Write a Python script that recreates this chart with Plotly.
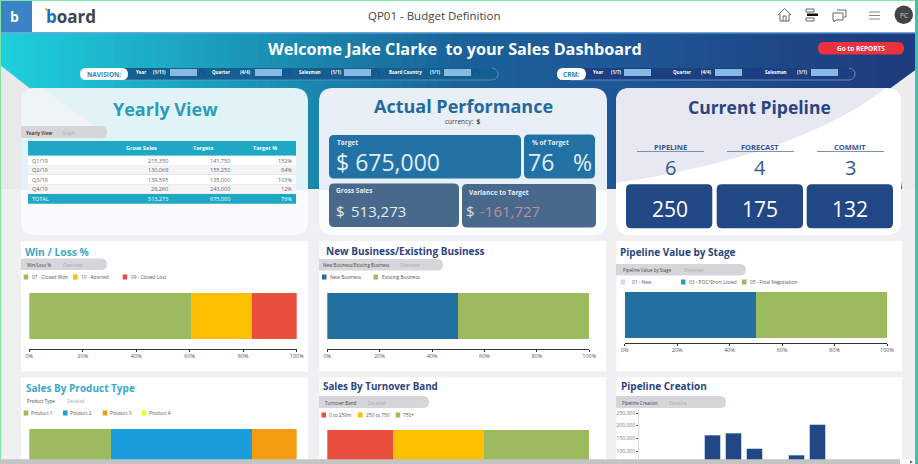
import plotly.graph_objects as go

W, H = 918, 464

# table
table_columns = ["Gross Sales", "Targets", "Target %"]
quarters = ["Q1/19", "Q2/19", "Q3/19", "Q4/19", "TOTAL"]
gross_sales = ["215,350", "130,068", "139,595", "28,260", "513,273"]
targets = ["141,750", "155,250", "135,000", "243,000", "675,000"]
target_pct = ["152%", "84%", "103%", "12%", "76%"]

# stacked bars, percent of total
pct_ticks = [0, 20, 40, 60, 80, 100]
pct_tick_labels = ["0%", "20%", "40%", "60%", "80%", "100%"]
win_labels = ["07 - Closed Won", "10 - Aborted", "09 - Closed Lost"]
win_values = [60.5, 22.7, 16.8]
business_labels = ["New Business", "Existing Business"]
business_values = [49.9, 50.1]
stage_labels = ["01 - New", "03 - POC/Short Listed", "05 - Final Negotiation"]
stage_values = [0, 50.1, 49.9]
product_labels = ["Product 1", "Product 2", "Product 3", "Product 4"]
product_values = [30.4, 52.8, 16.8, 0]
band_labels = ["0 to 250m", "250 to 750", "750+"]
band_values = [24.9, 34.9, 40.2]

# pipeline creation, by month
months = ["Jan", "Feb", "Mar", "Apr", "May", "Jun", "Jul", "Aug", "Sep", "Oct", "Nov", "Dec"]
pipeline_created = [None, None, None, 162000, 170000, 109500, None, 83500, 204000, None, None, None]
pipeline_ticks = [100000, 150000, 200000, 250000]

GREEN = "#9cba5e"
BLUE = "#22709f"
NAVY = "#2c4480"
TEAL = "#3aa9c9"
WHITE_TXT = "#e3edf5"
FONT = "Open Sans"

shapes = []
notes = []


def box(x0, y0, x1, y1, color, r=0, layer="below", round_left=True):
    rl = r if round_left else 0
    path = (
        f"M{x0 + rl},{y0} L{x1 - r},{y0} Q{x1},{y0} {x1},{y0 + r} L{x1},{y1 - r} Q{x1},{y1} {x1 - r},{y1} "
        f"L{x0 + rl},{y1} Q{x0},{y1} {x0},{y1 - rl} L{x0},{y0 + rl} Q{x0},{y0} {x0 + rl},{y0} Z"
    )
    shapes.append(dict(type="path", path=path, fillcolor=color, line_width=0, layer=layer, xref="x", yref="y"))


def poly(path, color, layer="below"):
    shapes.append(dict(type="path", path=path, fillcolor=color, line_width=0, layer=layer, xref="x", yref="y"))


def stroke(path, color="#666666", width=1):
    shapes.append(dict(type="path", path=path, line=dict(color=color, width=width), layer="below", xref="x", yref="y"))


def txt(x, y, s, size, color="#444444", anchor="left", bold=False):
    notes.append(dict(
        x=x, y=y, xref="x", yref="y", text=f"<b>{s}</b>" if bold else s, showarrow=False,
        xanchor=anchor, yanchor="middle", borderpad=0, font=dict(size=size, color=color, family=FONT),
    ))


def mix(c1, c2, t):
    a = [int(c1[i:i + 2], 16) for i in (1, 3, 5)]
    b = [int(c2[i:i + 2], 16) for i in (1, 3, 5)]
    return "#%02x%02x%02x" % tuple(round(p + (q - p) * t) for p, q in zip(a, b))


# banner gradient
stops = [(0, "#1ecfdc"), (310, "#1a86ad"), (460, "#1a6199"), (615, "#1e5796"), (918, "#1e3a7c")]
for x in range(0, W, 6):
    for (s0, c0), (s1, c1) in zip(stops, stops[1:]):
        if s0 <= x < s1:
            box(x, 33, x + 7, 189, mix(c0, c1, (x - s0) / (s1 - s0)))
            break

# page edges under the banner
box(0, 189, W, H, "#f0f0f3")
poly("M0,65 L32,90 L21,189 L0,189 Z", "#e9e9ec")
poly("M918,68 L888,90 L902,189 L918,189 Z", "#ececef")

# header
box(0, 0, W, 32, "#ffffff")
box(0, 0, 32, 32, "#3b82c6")
box(0, 32, W, 33.5, "#6da7dc")
txt(14, 16, "b", 14, "#ffffff", "center", True)
txt(44.5, 16.5, "<span style='color:#1f6fb5'>b</span>oard", 17, "#3c4450", bold=True)
box(45.5, 8, 47, 11, "#f0a030")
txt(434, 15, "QP01 - Budget Definition", 11.5, "#444444", "center")
stroke("M778,15 L784.5,8.5 L791,15 M780,14 L780,21 L789,21 L789,14 M783,21 L783,16 L786,16 L786,21")
stroke("M806,9 L814,9 L814,12 L806,12 Z M806,18 L814,18 L814,21 L806,21 Z")
box(807, 13.5, 818, 16, "#111111")
stroke("M837,10 L846,10 L846,17 L844,17 M833,13 L843,13 L843,20 L836,20 L834,22 L834,20 L833,20 Z")
stroke("M869,12 L880,12 M869,15.5 L880,15.5 M869,19 L880,19", "#888888")
shapes.append(dict(type="circle", x0=894.5, x1=913, y0=5.5, y1=24, fillcolor="#444444", line_width=0, layer="below", xref="x", yref="y"))
txt(903.7, 15, "PC", 6.5, "#cccccc", "center")

# banner texts
txt(455, 49, "Welcome Jake Clarke  to your Sales Dashboard", 16.2, "#ffffff", "center", True)
box(818, 42, 904, 54.5, "#e8333f", 6)
txt(861, 48.5, "Go to REPORTS", 6.5, "#ffffff", "center", True)

# selector bars
box(110, 68, 498, 80, "#155f90", 6)
box(570, 68, 855, 80, "#1b3f80", 6)
stroke("M110,80 L492,80 Q498,79 498,74 Q498,69 492,68", "#6aa0c8", 0.7)
stroke("M570,80 L849,80 Q855,79 855,74 Q855,69 849,68", "#8aa4d0", 0.7)
box(80, 68, 128, 80, "#ffffff", 6)
box(557, 68, 586, 80, "#ffffff", 6)
txt(104, 74.5, "NAVISION:", 6.5, "#2a86b5", "center", True)
txt(571.5, 74.5, "CRM:", 6.5, "#2a86b5", "center", True)
for name, cnt, xn, xc, xb in [
    ("Year", "(1/11)", 141, 159, 170), ("Quarter", "(4/4)", 221, 245, 255),
    ("Salesman", "(1/1)", 310, 336, 344), ("Board Country", "(1/1)", 405, 435, 444),
    ("Year", "(1/7)", 598, 616, 624), ("Quarter", "(4/4)", 682, 706, 715), ("Salesman", "(1/1)", 776, 802, 811),
]:
    txt(xn, 72, name, 4.5, "#ffffff", "center", True)
    txt(xc, 72, cnt, 4.5, "#ffffff", "center", True)
    box(xb, 69, xb + 27, 76, "#86b9e4")
    stroke(f"M{xb + 29},75 Q{xb + 29},70 {xb + 32},70 Q{xb + 35},70 {xb + 35},75", "#0f4a78", 0.8)

# top cards
box(21, 88, 308, 235, "#e2f3f8", 14)
poly("M21,190 L308,190 L308,221 Q308,235 294,235 L35,235 Q21,235 21,221 Z", "#fbfbfd")
poly("M21,102 Q21,88 35,88 L42,88 L100,130 L21,128 Z", "#eff4f6")
box(319, 88, 607, 235, "#e8eff7", 14)
poly("M319,190 L607,190 L607,221 Q607,235 593,235 L333,235 Q319,235 319,221 Z", "#fbfcfd")
box(616, 88, 901, 235, "#ffffff", 14)
poly("M616,102 Q616,88 630,88 L886,88 Q800,155 616,183 Z", "#e6e9f2")

txt(165, 109, "Yearly View", 18, "#2a9dbb", "center", True)
txt(463, 105.5, "Actual Performance", 18, "#24689e", "center", True)
txt(463, 121.5, "currency:  <b>$</b>", 6.5, "#444444", "center")
txt(759, 107, "Current Pipeline", 17.5, NAVY, "center", True)

box(21, 126, 107, 138, "#d6d6da", 6, round_left=False)
txt(25, 132.5, "Yearly View", 4.5, "#444444", bold=True)
txt(61, 132.5, "Graph", 4.5, "#aaaaaa")

# yearly view table
col_left = [28, 110, 172, 234]
col_right = [110, 172, 234, 296]
box(28, 141, 296, 155.7, "#1fa7c6")
for j, head in enumerate(table_columns):
    txt((col_left[j + 1] + col_right[j + 1]) / 2, 148.3, head, 5.5, "#ffffff", "center", True)
row_h = 9.6
for i, label in enumerate(quarters):
    top = 155.7 + i * row_h
    is_total = i == len(quarters) - 1
    fill = "#1fa7c6" if is_total else ("#ffffff" if i % 2 == 0 else "#f4f4f6")
    color = "#ffffff" if is_total else "#666666"
    box(28, top, 296, top + row_h, fill)
    if not is_total:
        box(28, top + row_h - 0.3, 296, top + row_h + 0.3, "#d8d8d8")
    txt(31, top + row_h / 2, label, 5.5, color)
    for j, col in enumerate([gross_sales, targets, target_pct]):
        txt(col_right[j + 1] - 3, top + row_h / 2, col[i], 5.5, color, "right")

# actual performance tiles
box(329, 135, 521, 178.5, "#2272a6", 5)
box(524, 134.5, 595, 178.5, "#2272a6", 5)
box(329, 183.5, 459, 227, "#49698c", 5)
box(462, 184, 596, 227.5, "#49698c", 5)
txt(336, 142.5, "Target", 6.5, WHITE_TXT, bold=True)
txt(335, 162, "$ 675,000", 23, WHITE_TXT)
txt(531, 142, "% of Target", 6.5, WHITE_TXT, bold=True)
txt(527, 162, "76", 23, WHITE_TXT)
txt(572, 162, "%", 23, WHITE_TXT)
txt(335, 190.5, "Gross Sales", 6.5, WHITE_TXT, bold=True)
txt(335, 211, "$", 15, WHITE_TXT)
txt(350, 211, "513,273", 15, WHITE_TXT)
txt(468, 192, "Variance to Target", 6.5, WHITE_TXT, bold=True)
txt(465, 211, "$", 15, "#d5dde6")
txt(479, 211, "-161,727", 15, "#c48a95")

# current pipeline tiles
for name, cnt, amount, cx, x0, x1 in [
    ("PIPELINE", "6", "250", 670, 626, 712.3),
    ("FORECAST", "4", "175", 760, 716.7, 803),
    ("COMMIT", "3", "132", 850, 806.7, 893),
]:
    txt(cx, 146.5, name, 7.5, "#3a5590", "center", True)
    stroke(f"M{cx - 33},151.5 L{cx + 34},151.5", "#8090ad", 1)
    txt(cx, 167, cnt, 20, "#3a5590", "center")
    box(x0, 184.3, x1, 228.3, "#214785", 5)
    txt(cx, 209, amount, 21, "#ffffff", "center")

# lower panels
for x0, x1 in [(21, 308), (319.5, 606), (616.5, 902)]:
    box(x0, 241, x1, 371.5, "#ffffff")
    box(x0, 377.3, x1, H, "#ffffff")

# window edges and scrollbar
box(0, 0, W, 1, "#7fe3a8", layer="above")
box(0, 0, 1, H, "#7fe3a8", layer="above")
box(915, 0, W, H, "#3ec4ac", layer="above")
box(900, 459.3, 915, H, "#ffffff", layer="above")
box(0, 459.3, 900, H, "#c4c4c4", layer="above")
poly("M910,460.5 L913,462 L910,463.5 Z", "#555555", layer="above")


def panel_head(title, color, tx, ty, size, pill, name, view, legend, leg_y):
    txt(tx, ty, title, size, color, bold=True)
    if pill:
        box(pill[0], pill[1], pill[2], pill[3], "#d6d6da", 6, round_left=False)
    yy = (pill[1] + pill[3]) / 2 + 0.5 if pill else ty + 13.5
    txt(name[1], yy, name[0], 4.5, "#444444")
    txt(view[1], yy, view[0], 4.5, "#aaaaaa")
    for label, swatch_x, text_x, c in legend:
        box(swatch_x, leg_y - 2.5, swatch_x + 4.5, leg_y + 2.5, c)
        txt(text_x, leg_y, label, 4.8, "#555555")


panel_head("Win / Loss %", TEAL, 24, 251.5, 10.3, (21, 258.5, 107, 270), ("Win/Loss %", 26), ("Overview", 62),
           [(win_labels[0], 23.7, 31, GREEN), (win_labels[1], 73, 80, "#ffc000"), (win_labels[2], 122.7, 130, "#e94f3d")], 277)
panel_head("New Business/Existing Business", NAVY, 325, 251, 10, (319, 259, 443, 270.5), ("New Business/Existing Business", 322), ("Overview", 399),
           [(business_labels[0], 322, 329, BLUE), (business_labels[1], 373.5, 381, GREEN)], 277)
panel_head("Pipeline Value by Stage", NAVY, 619, 252, 10, (616, 264, 746, 275.5), ("Pipeline Value by Stage", 622), ("Overview", 683),
           [(stage_labels[0], 620.7, 631, "#c5e4e0"), (stage_labels[1], 681, 688, "#1fa0b8"), (stage_labels[2], 742, 749, GREEN)], 282)
panel_head("Sales By Product Type", TEAL, 25, 387.5, 10, None, ("Product Type", 26), ("Detailed", 66),
           [(product_labels[0], 23.7, 30, GREEN), (product_labels[1], 63, 69, "#1a9ddd"), (product_labels[2], 102.7, 109, "#f39c12"), (product_labels[3], 141.7, 148, "#f5f520")], 413)
panel_head("Sales By Turnover Band", NAVY, 322, 386.5, 9.8, (319, 396, 429, 408), ("Turnover Band", 324), ("Detailed", 367),
           [(band_labels[0], 321.5, 328, "#e94f3d"), (band_labels[1], 358, 365, "#ffc000"), (band_labels[2], 395.7, 402, GREEN)], 415)
panel_head("Pipeline Creation", NAVY, 620, 385.5, 10, (616, 396, 726, 408), ("Pipeline Creation", 621), ("Timeline", 668), [], 0)


def dom_x(x0, x1):
    return [x0 / W, x1 / W]


def dom_y(top, bottom):
    return [1 - bottom / H, 1 - top / H]


fig = go.Figure()
# pixel axes that carry the page furniture
fig.add_trace(go.Scatter(x=[], y=[], xaxis="x", yaxis="y", showlegend=False))
layout_axes = dict(
    xaxis=dict(domain=[0, 1], range=[0, W], visible=False, fixedrange=True),
    yaxis=dict(domain=[0, 1], range=[H, 0], visible=False, fixedrange=True),
)
n_axes = 1


def stacked(labels, values, colors, x0, x1, bar_top, bar_bottom, plot_top, axis_y, show_axis=True):
    global n_axes
    n_axes += 1
    xa, ya = f"x{n_axes}", f"y{n_axes}"
    for label, value, color in zip(labels, values, colors):
        fig.add_trace(go.Bar(
            x=[value], y=[0], name=label, orientation="h", width=1, xaxis=xa, yaxis=ya,
            marker=dict(color=color, line=dict(color=color, width=0)), showlegend=False,
        ))
    px = bar_bottom - bar_top
    layout_axes[f"xaxis{n_axes}"] = dict(
        domain=dom_x(x0, x1), range=[0, 100], anchor=ya, tickvals=pct_ticks, ticktext=pct_tick_labels,
        showgrid=False, zeroline=False, showline=show_axis, linecolor="#333333", linewidth=1, ticks="outside" if show_axis else "",
        ticklen=2, tickcolor="#333333", showticklabels=show_axis, tickfont=dict(size=5.5, color="#555555", family=FONT),
    )
    layout_axes[f"yaxis{n_axes}"] = dict(
        domain=dom_y(plot_top, axis_y), range=[-0.5 - (axis_y - bar_bottom) / px, 0.5 + (bar_top - plot_top) / px],
        anchor=xa, visible=False,
    )


stacked(win_labels, win_values, [GREEN, "#ffc000", "#e94f3d"], 29.3, 296.7, 292.7, 338.7, 288, 348.7)
stacked(business_labels, business_values, [BLUE, GREEN], 327.3, 589.3, 292.7, 338.7, 288, 348.7)
stacked(stage_labels, stage_values, ["#c5e4e0", BLUE, GREEN], 624.7, 887, 292, 338, 288, 342.7)
stacked(product_labels, product_values, [GREEN, "#1a9ddd", "#f39c12", "#f5f520"], 29.3, 296.7, 429, 475, 425, 464, False)
stacked(band_labels, band_values, ["#e94f3d", "#ffc000", GREEN], 327.3, 589.3, 430, 476, 426, 464, False)

n_axes += 1
fig.add_trace(go.Bar(
    x=months, y=pipeline_created, xaxis=f"x{n_axes}", yaxis=f"y{n_axes}", showlegend=False,
    marker=dict(color="#214785", line=dict(color="#8fb0d8", width=0.6)),
))
layout_axes[f"xaxis{n_axes}"] = dict(domain=dom_x(639, 891), visible=False, categoryorder="array", categoryarray=months, anchor=f"y{n_axes}")
layout_axes[f"yaxis{n_axes}"] = dict(
    domain=dom_y(409, 464), range=[49200, 265750], anchor=f"x{n_axes}", tickvals=pipeline_ticks, tickformat=",d",
    showgrid=False, zeroline=False, showline=True, linecolor="#dddddd", ticks="outside", ticklen=2, tickcolor="#555555",
    tickfont=dict(size=5, color="#777777", family=FONT),
)

fig.update_layout(
    template="none", width=W, height=H, margin=dict(l=0, r=0, t=0, b=0, pad=0), autosize=False,
    paper_bgcolor="#f0f0f3", plot_bgcolor="rgba(0,0,0,0)", barmode="stack", bargap=0.28,
    font=dict(family=FONT), shapes=shapes, annotations=notes, **layout_axes,
)

fig.write_html("out.html", config={"displayModeBar": False}, post_script="document.body.style.margin='0';document.body.style.overflow='hidden';")
